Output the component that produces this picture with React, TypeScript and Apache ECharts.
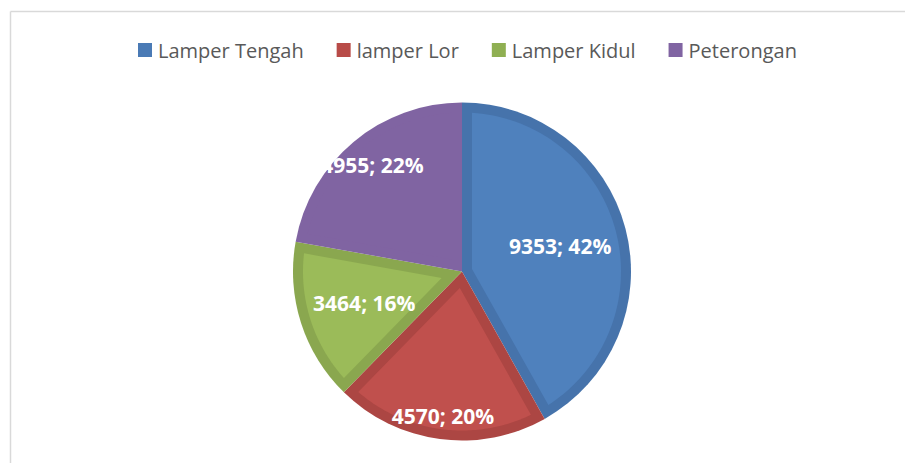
import React, { useEffect, useRef } from "react";
import * as echarts from "echarts";

const CATEGORIES = ["Lamper Tengah", "lamper Lor", "Lamper Kidul", "Peterongan"];
const VALUES = [9353, 4570, 3464, 4955];

const FILL_COLORS = ["#4F81BD", "#C0504D", "#9BBB59", "#8064A2"];
const BAND_COLORS = ["#4673AB", "#AC4643", "#8AA74F", "#8064A2"];
const LEGEND_COLORS = ["#4A7AB5", "#B84B48", "#8FAF52", "#8064A2"];
const LABEL_RADIUS_FRACTION = [0.6, 0.86, 0.607, 0.825];

const CENTER: [number, number] = [462, 271.5];
const RADIUS = 169;
const INSET = 10;

export default function App() {
  const ref = useRef<HTMLDivElement>(null);
  useEffect(() => {
    if (!ref.current) return;
    const chart = echarts.init(ref.current, null, { renderer: "svg" });
    const total = VALUES.reduce((a, b) => a + b, 0);

    const sliceAngles = (i: number) => {
      let acc = 0;
      for (let j = 0; j < i; j++) acc += VALUES[j];
      const t0 = -Math.PI / 2 + (acc / total) * Math.PI * 2;
      const t1 = t0 + (VALUES[i] / total) * Math.PI * 2;
      return [t0, t1];
    };

    const option: any = {
      animation: false,
      backgroundColor: "#ffffff",
      graphic: [
        {
          type: "line",
          shape: { x1: 10.5, y1: 11.5, x2: 905, y2: 11.5 },
          style: { stroke: "#D9D9D9", lineWidth: 1.5 },
          silent: true,
          z: 0,
        },
        {
          type: "line",
          shape: { x1: 10.5, y1: 11.5, x2: 10.5, y2: 463 },
          style: { stroke: "#D9D9D9", lineWidth: 1.5 },
          silent: true,
          z: 0,
        },
      ],
      legend: {
        left: 133,
        top: 35,
        orient: "horizontal",
        itemWidth: 14,
        itemHeight: 14,
        itemGap: 33,
        icon: "rect",
        selectedMode: false,
        data: CATEGORIES.map((name, i) => ({
          name,
          itemStyle: { color: LEGEND_COLORS[i] },
        })),
        textStyle: {
          fontFamily: "Open Sans",
          fontSize: 20,
          lineHeight: 20,
          color: "#595959",
          padding: [0, 0, 0, 1],
        },
      },
      series: [
        {
          type: "pie",
          name: "Kelurahan",
          center: CENTER,
          radius: RADIUS,
          startAngle: 90,
          clockwise: true,
          avoidLabelOverlap: false,
          silent: true,
          label: { show: false },
          labelLine: { show: false },
          emphasis: { disabled: true },
          itemStyle: { borderWidth: 0 },
          z: 2,
          data: CATEGORIES.map((name, i) => ({
            name,
            value: VALUES[i],
            itemStyle: { color: BAND_COLORS[i] },
          })),
        },
        {
          type: "custom",
          name: "inset",
          coordinateSystem: "none",
          silent: true,
          z: 3,
          data: VALUES.map((v, i) => [v, i]),
          renderItem: (params: any) => {
            const i = params.dataIndex;
            const [t0, t1] = sliceAngles(i);
            const [cx, cy] = CENTER;
            const half = (t1 - t0) / 2;
            const tm = (t0 + t1) / 2;
            const apexDist = INSET / Math.sin(half);
            const points: number[][] = [];
            points.push([cx + apexDist * Math.cos(tm), cy + apexDist * Math.sin(tm)]);
            const rr = RADIUS - INSET;
            const delta = Math.asin(INSET / rr);
            const N = 80;
            for (let k = 0; k <= N; k++) {
              const a = t0 + delta + ((t1 - t0 - 2 * delta) * k) / N;
              points.push([cx + rr * Math.cos(a), cy + rr * Math.sin(a)]);
            }
            const lr = RADIUS * LABEL_RADIUS_FRACTION[i];
            const pct = Math.round((VALUES[i] / total) * 100);
            return {
              type: "group",
              children: [
                {
                  type: "polygon",
                  shape: { points },
                  style: { fill: FILL_COLORS[i] },
                },
                {
                  type: "text",
                  x: cx + lr * Math.cos(tm),
                  y: cy + lr * Math.sin(tm),
                  z2: 10,
                  style: {
                    text: `${VALUES[i]}; ${pct}%`,
                    fill: "#ffffff",
                    font: "bold 21px 'Open Sans'",
                    align: "center",
                    verticalAlign: "middle",
                  },
                },
              ],
            };
          },
        },
      ],
    };
    chart.setOption(option);
    return () => chart.dispose();
  }, []);
  return (
    <div
      ref={ref}
      style={{ position: "fixed", left: 0, top: 0, width: 905, height: 463, background: "#fff" }}
    />
  );
}
